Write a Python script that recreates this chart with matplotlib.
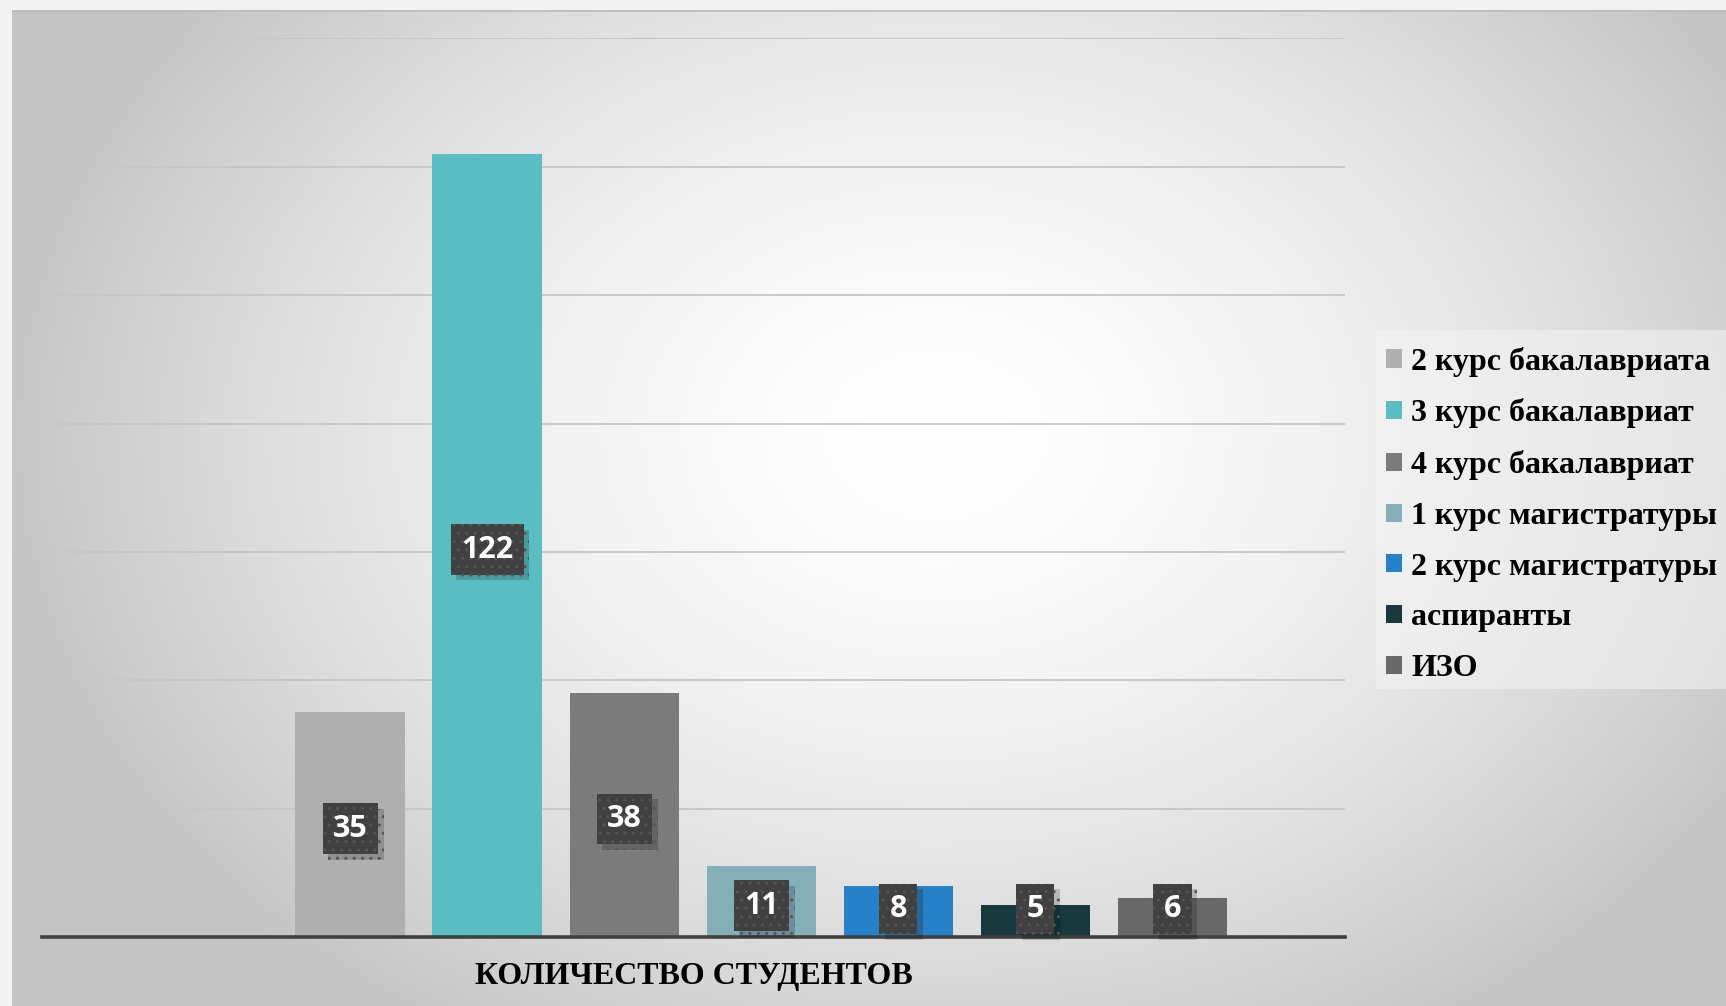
import numpy as np
import matplotlib
matplotlib.use('Agg')
from matplotlib import pyplot as plt
from matplotlib.patches import Rectangle
from matplotlib.transforms import offset_copy
from matplotlib import patheffects as pe

groups = ['2 курс бакалавриата', '3 курс бакалавриат', '4 курс бакалавриат',
          '1 курс магистратуры', '2 курс магистратуры', 'аспиранты', 'ИЗО']
counts = [35, 122, 38, 11, 8, 5, 6]
colors = ['#afafaf', '#5bbdc4', '#7b7b7b', '#84aeb8', '#2681c8', '#17393d', '#686868']
axis_title = 'КОЛИЧЕСТВО СТУДЕНТОВ'

W, H = 1726, 1006
fig = plt.figure(figsize=(W / 100, H / 100), dpi=100, facecolor='#f2f2f2')

# background panel with radial gradient (white centre, grey corners)
bx0, by1 = 11.5, 9.5
bg = fig.add_axes([bx0 / W, 0, 1 - bx0 / W, 1 - by1 / H])
bg.set_axis_off()
xx, yy = np.meshgrid(np.linspace(0, W, 400), np.linspace(0, H, 240))
r = np.sqrt(((xx - 930) / 950) ** 2 + ((yy - 430) / 720) ** 2)
shade = 1 - (1 - 0.77) * np.clip(r, 0, 1) ** 1.6
bg.imshow(np.dstack([shade] * 3), aspect='auto', extent=[0, 1, 0, 1])
bg.axhline(1, color='#bdbdbd', lw=2)
bg.set_xlim(0, 1)
bg.set_ylim(0, 1)

# lighter legend panel (drawn in the background axes so it stays below the legend)
bw, bh = W - bx0, H - by1
bg.add_patch(Rectangle(((1376 - bx0) / bw, (H - 689) / bh), (W - 1376) / bw, 359 / bh,
                       facecolor='#f4f4f4', alpha=0.55, edgecolor='none'))

ax = fig.add_axes([42 / W, 1 - 937 / H, 1303 / W, (937 - 38.5) / H])
ax.patch.set_alpha(0)
x = np.arange(len(counts))
for i in range(len(counts)):
    ax.bar(x[i], counts[i], width=0.8, color=colors[i], label=groups[i], zorder=3)

ax.set_xlim(-2.25, 7.26)
ax.set_ylim(0, 140)
for g in range(20, 141, 20):
    ax.axhline(g, color='#c6c6c6', lw=1.3, zorder=1)
ax.axhline(0, color='#404040', lw=2.6, zorder=4, clip_on=False)
for s in ax.spines.values():
    s.set_visible(False)
ax.set_xticks([])
ax.set_yticks([])

# value labels: dark dotted boxes with a soft drop shadow
box_tr = offset_copy(ax.transData, fig=fig, x=0, y=-4, units='dots')
for i, v in enumerate(counts):
    ypos = max(v / 2, 5)
    t = ax.text(x[i], ypos, str(v), transform=box_tr, ha='center', va='center',
                fontsize=22, fontweight='bold', family='Open Sans', color='white',
                bbox=dict(boxstyle='square,pad=0.34', facecolor='#404040',
                          edgecolor='#545454', linewidth=0, hatch='..'), zorder=6)
    t.get_bbox_patch().set_path_effects([
        pe.SimplePatchShadow(offset=(4, -4), shadow_rgbFace='black', alpha=0.18),
        pe.Normal()])

ax.set_xlabel(axis_title, fontsize=23, fontweight='bold', family='Liberation Serif',
              color='black', labelpad=18)

leg = ax.legend(loc='upper left', bbox_to_anchor=(1373 / W, 1 - 334 / H),
                bbox_transform=fig.transFigure, frameon=False,
                prop={'family': 'Liberation Serif', 'weight': 'bold', 'size': 23},
                handlelength=0.5, handleheight=0.5, handletextpad=0.3,
                labelspacing=0.68, borderaxespad=0)

fig.savefig('out.png', dpi=100, facecolor=fig.get_facecolor())
